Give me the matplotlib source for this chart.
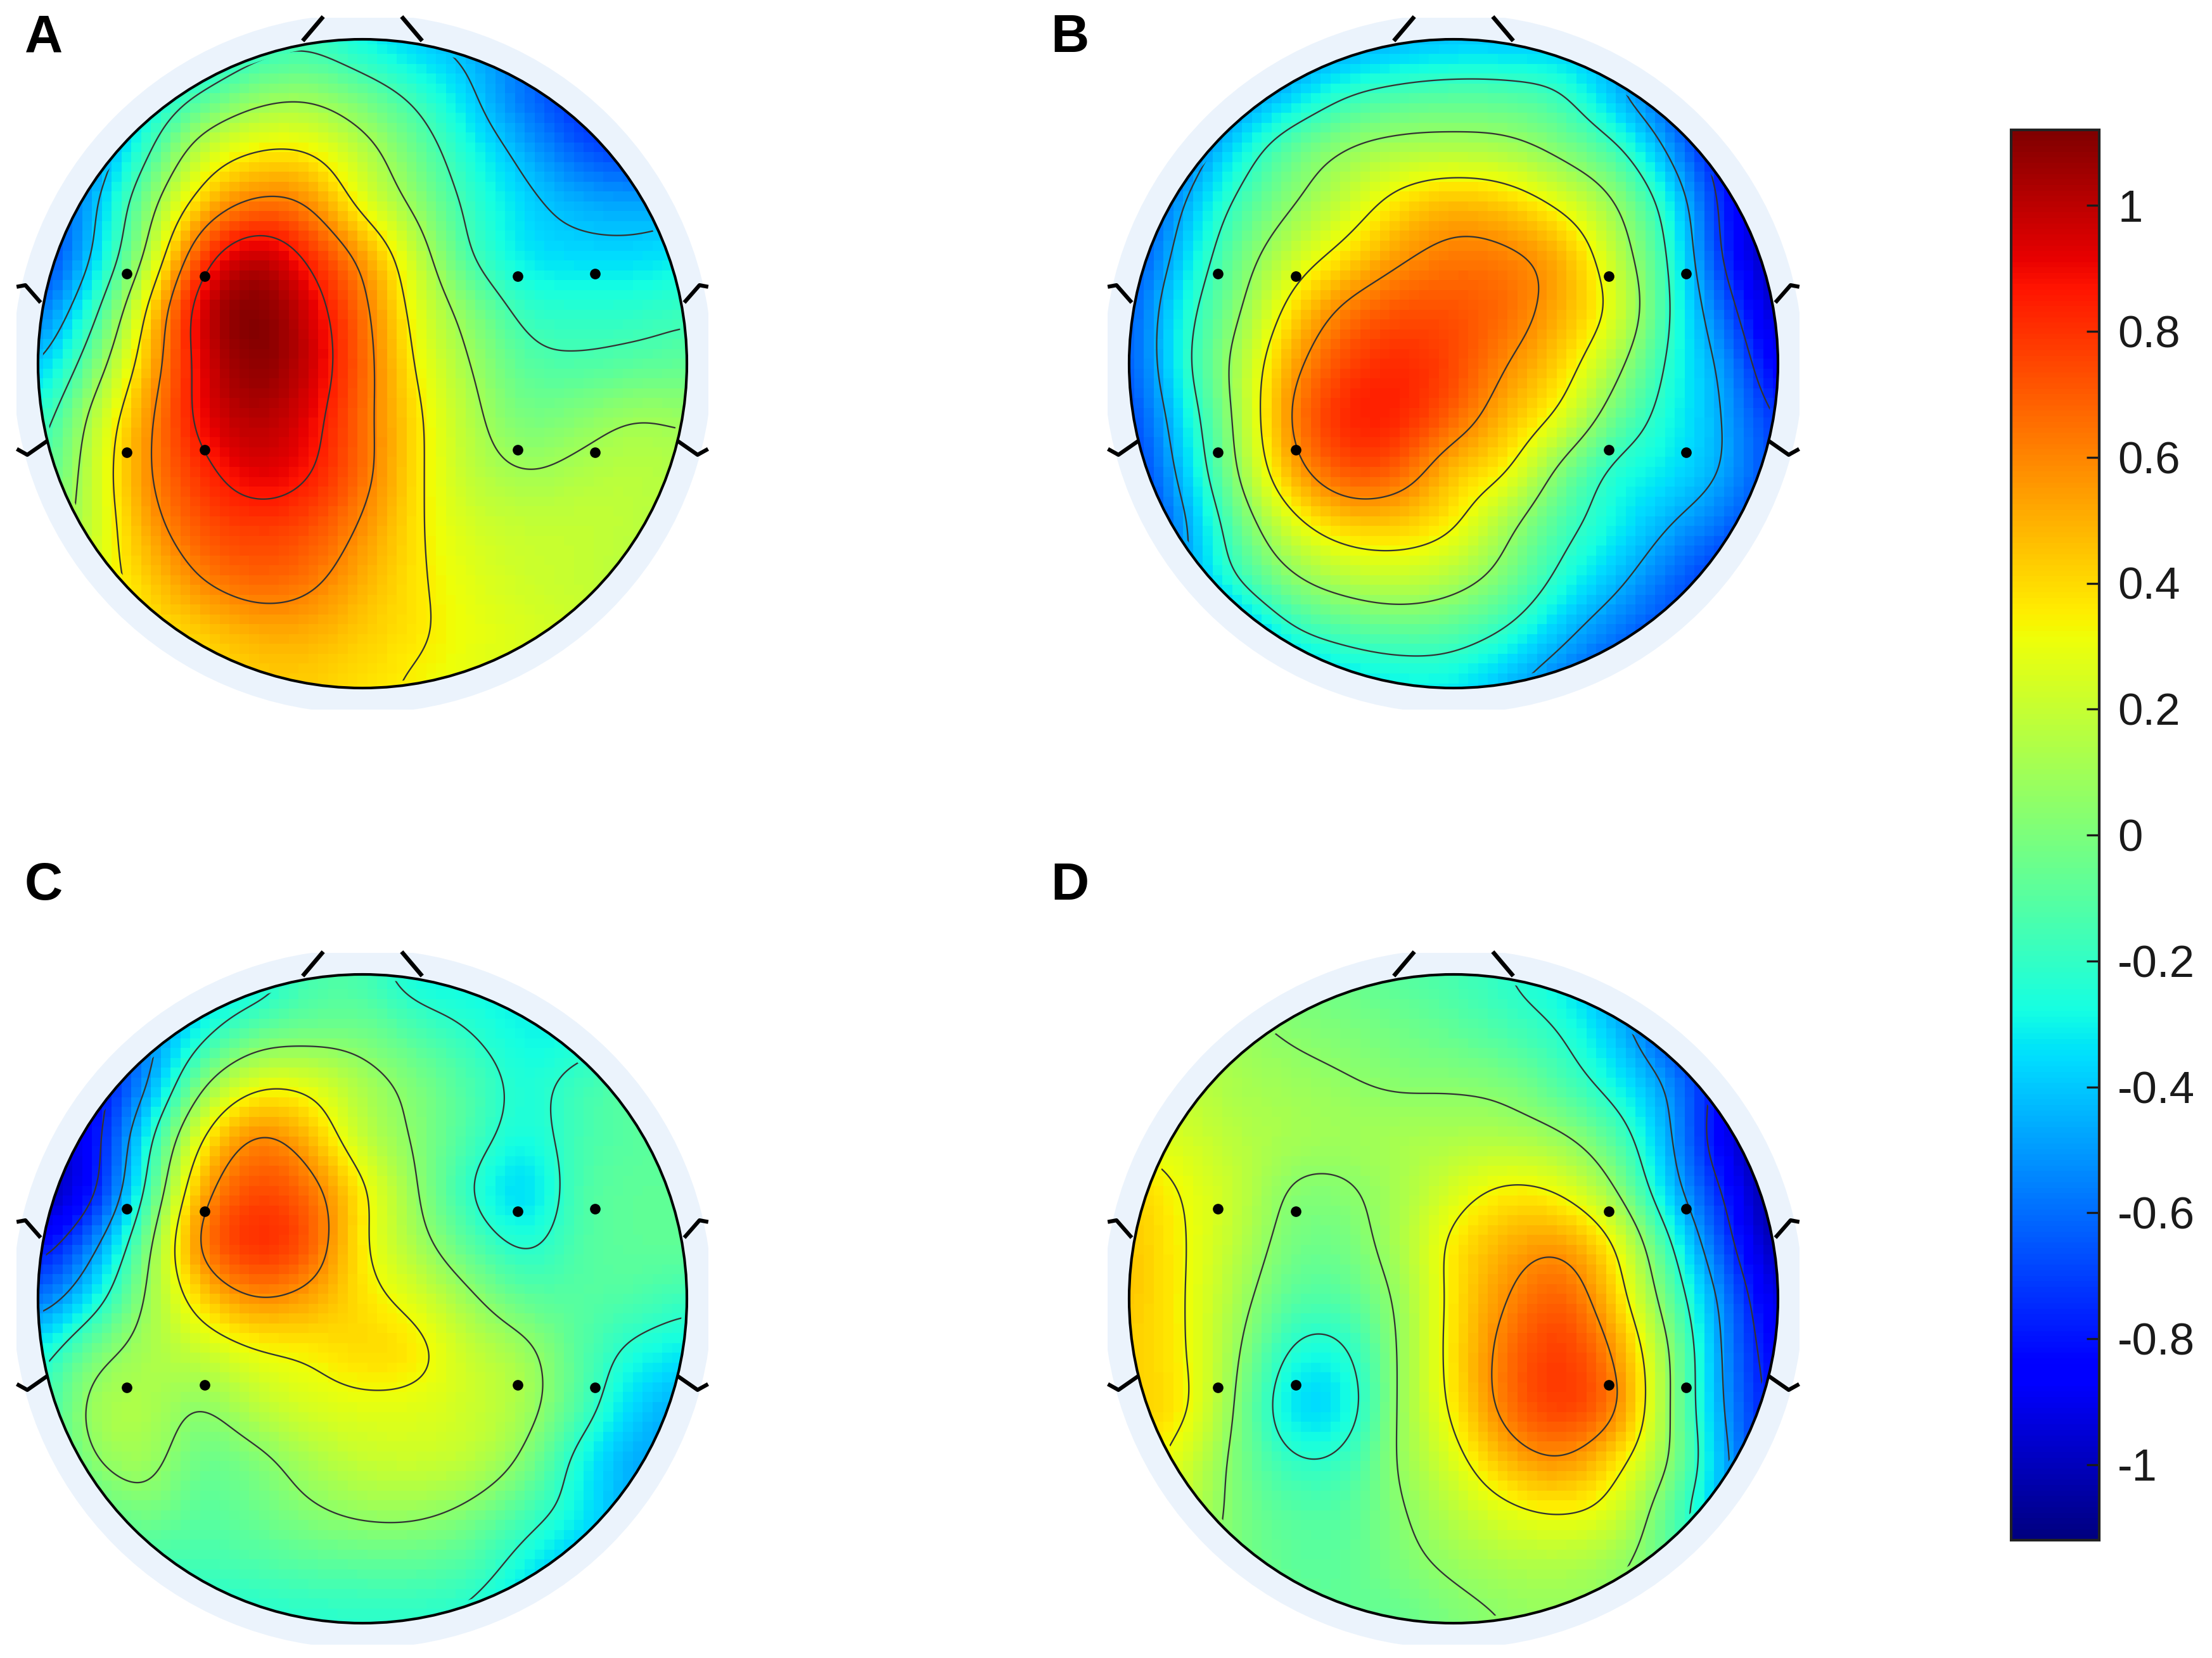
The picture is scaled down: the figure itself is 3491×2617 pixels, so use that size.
import numpy as np
import matplotlib
matplotlib.use("Agg")
import matplotlib.pyplot as plt
from matplotlib.patches import Circle, Rectangle

plt.rcParams["font.family"] = ["Liberation Sans", "DejaVu Sans"]

W, H = 3491, 2617
VMAX = 1.12

# scalp values on a 13x13 grid, top row first
panel_a = [
    [-.50, -.50, -.45, -.40, -.25, -.20, -.30, -.40, -.45, -.55, -.60, -.65, -.60],
    [-.55, -.50, -.35, -.15, .02, .06, -.05, -.20, -.38, -.60, -.74, -.80, -.72],
    [-.65, -.55, -.20, .18, .33, .33, .16, -.05, -.28, -.46, -.65, -.73, -.68],
    [-.70, -.45, .00, .42, .62, .58, .28, .05, -.20, -.36, -.45, -.48, -.45],
    [-.75, -.40, .12, .75, 1.00, .82, .55, .20, -.15, -.33, -.36, -.36, -.33],
    [-.60, -.22, .35, .95, 1.12, .95, .65, .28, .02, -.20, -.22, -.22, -.18],
    [-.42, -.03, .45, .92, 1.10, .98, .68, .33, .10, -.10, -.13, -.10, -.08],
    [-.25, .15, .55, .90, 1.02, .92, .66, .38, .15, -.02, .03, .10, .08],
    [-.15, .20, .58, .80, .93, .87, .66, .38, .18, .10, .14, .17, .14],
    [-.05, .20, .52, .72, .78, .74, .58, .37, .24, .20, .20, .18, .12],
    [.00, .25, .42, .60, .68, .64, .50, .37, .28, .22, .20, .15, .10],
    [.05, .25, .36, .42, .50, .50, .43, .37, .30, .26, .22, .15, .10],
    [.10, .25, .30, .36, .42, .42, .38, .33, .28, .24, .20, .15, .10],
]
panel_b = [
    [-.75, -.70, -.60, -.55, -.50, -.45, -.42, -.42, -.42, -.45, -.50, -.60, -.70],
    [-.80, -.75, -.55, -.40, -.22, -.14, -.11, -.12, -.19, -.44, -.65, -.90, -.90],
    [-.85, -.62, -.33, -.08, .06, .12, .13, .11, .00, -.17, -.50, -.85, -.95],
    [-.75, -.47, -.17, .04, .20, .38, .47, .42, .27, .06, -.30, -.78, -1.05],
    [-.70, -.38, -.05, .20, .38, .55, .63, .61, .50, .18, -.22, -.75, -1.05],
    [-.65, -.28, .03, .38, .62, .72, .72, .66, .50, .27, -.20, -.62, -1.00],
    [-.65, -.25, .12, .52, .75, .82, .75, .58, .41, .12, -.24, -.50, -.90],
    [-.70, -.33, .10, .60, .83, .83, .68, .47, .28, -.05, -.28, -.46, -.75],
    [-.75, -.40, .06, .50, .72, .68, .45, .33, .00, -.25, -.33, -.47, -.70],
    [-.80, -.50, -.08, .25, .42, .42, .34, .10, -.14, -.30, -.46, -.60, -.75],
    [-.85, -.50, -.20, .03, .15, .20, .13, -.02, -.25, -.42, -.60, -.75, -.85],
    [-.90, -.70, -.50, -.24, -.14, -.10, -.12, -.23, -.42, -.58, -.70, -.80, -.90],
    [-.90, -.80, -.65, -.50, -.38, -.32, -.33, -.45, -.58, -.70, -.80, -.85, -.90],
]
panel_c = [
    [-.70, -.60, -.50, -.40, -.33, -.15, -.15, -.30, -.30, -.30, -.30, -.30, -.30],
    [-.85, -.75, -.55, -.30, -.10, -.05, -.04, -.14, -.23, -.30, -.30, -.25, -.22],
    [-.90, -.85, -.52, .00, .27, .27, .12, .00, -.13, -.26, -.17, -.10, -.08],
    [-.95, -.85, -.30, .30, .60, .48, .18, .03, -.14, -.28, -.15, -.10, -.08],
    [-1.05, -.82, -.20, .50, .74, .66, .35, .06, -.22, -.38, -.13, -.08, -.08],
    [-.85, -.55, -.02, .62, .82, .72, .34, .12, -.10, -.25, -.12, -.08, -.07],
    [-.60, -.32, .07, .40, .58, .52, .38, .26, .08, -.08, -.10, -.12, -.18],
    [-.30, -.02, .12, .20, .30, .34, .40, .37, .20, .10, -.10, -.26, -.32],
    [-.20, .10, .14, .04, .17, .25, .28, .27, .22, .12, -.12, -.37, -.47],
    [-.20, .04, .10, -.05, .00, .12, .20, .22, .18, .02, -.28, -.46, -.47],
    [-.25, -.10, -.01, -.10, -.05, .02, .07, .07, .00, -.15, -.30, -.46, -.47],
    [-.30, -.20, -.18, -.16, -.14, -.11, -.10, -.10, -.14, -.30, -.45, -.47, -.47],
    [-.35, -.30, -.30, -.28, -.25, -.24, -.23, -.23, -.26, -.40, -.46, -.47, -.47],
]
panel_d = [
    [.00, .00, .00, -.02, -.05, -.10, -.15, -.22, -.32, -.50, -.70, -.85, -.95],
    [.10, .10, .08, .03, .00, -.03, -.08, -.15, -.23, -.42, -.70, -.95, -1.05],
    [.20, .18, .12, .09, .06, .03, .03, .00, -.13, -.30, -.52, -.85, -1.05],
    [.28, .24, .16, .12, .10, .12, .13, .13, .07, -.12, -.47, -.90, -1.10],
    [.42, .31, .20, .03, .03, .12, .25, .35, .30, .06, -.40, -.78, -1.10],
    [.45, .33, .17, -.02, -.02, .13, .36, .50, .55, .32, -.20, -.68, -1.05],
    [.45, .33, .12, -.10, -.10, .08, .37, .58, .70, .42, -.07, -.55, -.95],
    [.42, .34, .07, -.25, -.25, .07, .38, .65, .78, .56, .05, -.52, -.87],
    [.42, .36, .03, -.35, -.32, .08, .35, .65, .78, .62, .05, -.50, -.83],
    [.40, .25, .00, -.20, -.18, .07, .26, .48, .57, .38, .05, -.45, -.80],
    [.35, .20, .00, -.10, -.10, .03, .16, .27, .32, .24, -.10, -.45, -.70],
    [.30, .10, .00, -.08, -.08, .00, .07, .12, .13, .07, -.08, -.30, -.50],
    [.10, .05, .00, -.05, -.07, -.07, .00, .05, .07, .05, -.05, -.20, -.40],
]

panel_names = ["A", "B", "C", "D"]
panel_levels = [
    [-.40, -.15, .10, .35, .60, .85],
    [-.72, -.46, -.20, .06, .32, .58],
    [-.76, -.49, -.22, .05, .32, .58],
    [-.76, -.49, -.22, .05, .32, .58],
]
electrode_x = [-.726, -.487, .478, .717, -.726, -.487, .478, .717]
electrode_y = [.278, .270, .270, .278, -.274, -.265, -.265, -.274]
cbar_ticks = [-1, -.8, -.6, -.4, -.2, 0, .2, .4, .6, .8, 1]
cbar_labels = ["-1", "-0.8", "-0.6", "-0.4", "-0.2", "0", "0.2", "0.4", "0.6", "0.8", "1"]

centers = [(572, 574), (2294, 574), (572, 2050), (2294, 2050)]
label_pos = [(69, 60), (1688, 60), (69, 1398), (1688, 1398)]
RADIUS = 512


def upsample(values, n=397, sigma=.3):
    # catmull-rom on the read grid, then a light blur so contours don't wobble
    z = np.pad(np.array(values), 1, mode="edge")
    t = np.linspace(0, 12, n)
    i = np.minimum(t.astype(int), 11)
    f = t - i
    weights = np.zeros((n, 15))
    rows = np.arange(n)
    weights[rows, i] = -.5 * f + f**2 - .5 * f**3
    weights[rows, i + 1] = 1 - 2.5 * f**2 + 1.5 * f**3
    weights[rows, i + 2] = .5 * f + 2 * f**2 - 1.5 * f**3
    weights[rows, i + 3] = -.5 * f**2 + .5 * f**3
    fine = weights @ z @ weights.T

    sig = sigma * (n - 1) / 12
    half = int(3 * sig)
    kernel = np.exp(-.5 * (np.arange(-half, half + 1) / sig) ** 2)
    kernel /= kernel.sum()
    padded = np.pad(fine, half, mode="edge")
    padded = np.apply_along_axis(np.convolve, 0, padded, kernel, mode="same")
    padded = np.apply_along_axis(np.convolve, 1, padded, kernel, mode="same")
    return padded[half:-half, half:-half][::-1]


def draw_head(ax, values, levels):
    fine = upsample(values)
    n = fine.shape[0]

    halo = Circle((0, 0), 1.078, facecolor="#ebf3fc", edgecolor="none", zorder=1)
    ax.add_patch(halo)
    halo.set_clip_path(Rectangle((-1.066, -1.066), 2.132, 2.132, transform=ax.transData))

    head = Circle((0, 0), 1.0, transform=ax.transData)
    idx = np.arange(0, n, 6)
    half_cell = 1 / 66
    im = ax.imshow(
        fine[np.ix_(idx, idx)], extent=(-1 - half_cell, 1 + half_cell, -1 - half_cell, 1 + half_cell),
        origin="lower", cmap="jet", vmin=-VMAX, vmax=VMAX, interpolation="nearest", zorder=2,
    )
    im.set_clip_path(head)

    grid = np.linspace(-1, 1, n)
    cs = ax.contour(grid, grid, fine, levels=levels, colors="#333333", linewidths=.55, linestyles="solid", zorder=3)
    cs.set_clip_path(Circle((0, 0), .985, transform=ax.transData))

    ax.add_patch(Circle((0, 0), 1.0, fill=False, edgecolor="black", linewidth=1.0, zorder=4))
    ax.plot(electrode_x, electrode_y, "o", color="black", markersize=3, zorder=5)

    for sign in (-1, 1):
        ax.plot([sign * .18, sign * .125], [1.0, 1.065], color="black", linewidth=1.6, zorder=4)
        ax.plot([sign * .996, sign * 1.039, sign * 1.06], [.193, .242, .238], color="black", linewidth=1.5, zorder=4)
        ax.plot([sign * .977, sign * 1.033, sign * 1.06], [-.242, -.281, -.266], color="black", linewidth=1.5, zorder=4)

    ax.set_xlim(-1.12, 1.12)
    ax.set_ylim(-1.12, 1.12)
    ax.axis("off")
    return im


fig = plt.figure(figsize=(W / 300, H / 300), dpi=300, facecolor="white")

span = 1.12 * RADIUS
all_values = [panel_a, panel_b, panel_c, panel_d]
for values, levels, (cx, cy) in zip(all_values, panel_levels, centers):
    ax = fig.add_axes([(cx - span) / W, 1 - (cy + span) / H, 2 * span / W, 2 * span / H])
    im = draw_head(ax, values, levels)

for name, (lx, ly) in zip(panel_names, label_pos):
    fig.text(lx / W, 1 - ly / H, name, fontsize=20, fontweight="bold", ha="center", va="center", color="black")

cax = fig.add_axes([3174 / W, 1 - 2431 / H, 139 / W, 2226 / H])
cbar = fig.colorbar(im, cax=cax)
cbar.set_ticks(cbar_ticks)
cbar.set_ticklabels(cbar_labels)
cbar.ax.tick_params(direction="in", length=4.8, width=.8, pad=7, labelsize=17, colors="#1a1a1a", right=True, left=False)
cbar.outline.set_linewidth(1.0)
cbar.outline.set_edgecolor("#222222")

fig.savefig("out.png", dpi=300)
